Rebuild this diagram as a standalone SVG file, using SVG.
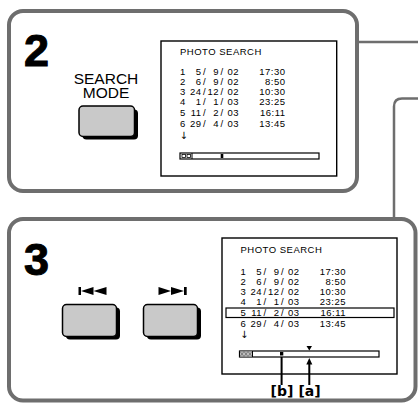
<svg xmlns="http://www.w3.org/2000/svg" width="418" height="403" viewBox="0 0 418 403">
<style>
.panel{fill:#fff;stroke:#6e6e6e;stroke-width:4}
.conn{fill:none;stroke:#6e6e6e;stroke-width:2.5}
.screen{fill:#fff;stroke:#000;stroke-width:1.4}
.t{font-family:"Liberation Sans",Arial,sans-serif;font-size:9.5px;letter-spacing:0.5px;fill:#000}
.e{text-anchor:end}
.step{font-family:"Liberation Sans",Arial,sans-serif;font-size:45px;font-weight:bold;fill:#000;stroke:#000;stroke-width:1}
.lbl{font-family:"Liberation Sans",Arial,sans-serif;font-size:15.5px;fill:#000;text-anchor:middle}
.face{fill:#c9c9c9;stroke:#000;stroke-width:1.5}
.shadow{fill:#000}
.bar{fill:#fff;stroke:#000;stroke-width:1.2}
.arr{font-family:"DejaVu Sans",sans-serif;font-size:10px;fill:#000}
.ab{font-family:"DejaVu Sans",Verdana,sans-serif;font-size:14px;font-weight:bold;fill:#000;text-anchor:middle}
</style>
<rect width="418" height="403" fill="#fff"/>
<g id="connectors">
<path class="conn" d="M359 42 H418"/>
<path class="conn" d="M418 98.5 H402 Q394 98.5 394 106.5 V218"/>
</g>
<g id="panel2">
<rect class="panel" x="9" y="11" width="348" height="180" rx="14"/>
<text class="step" x="24" y="66">2</text>
<text class="lbl"><tspan x="106" y="83.5">SEARCH</tspan><tspan x="106" y="97.5">MODE</tspan></text>
<rect class="shadow" x="82.5" y="109.5" width="55.5" height="30" rx="4"/>
<rect class="face" x="79" y="106" width="55.5" height="30.5" rx="4"/>
</g>
<g id="screen2">
<rect class="screen" x="161" y="41" width="175.7" height="135"/>
<text class="t" x="180" y="55">PHOTO  SEARCH</text>
<g class="t">
<text x="180" y="75">1</text><text class="e" x="201.5" y="75">5</text><text x="203" y="75">/</text><text class="e" x="219" y="75">9</text><text x="220.5" y="75">/</text><text x="227.5" y="75">02</text><text class="e" x="285.5" y="75">17:30</text>
<text x="180" y="85">2</text><text class="e" x="201.5" y="85">6</text><text x="203" y="85">/</text><text class="e" x="219" y="85">9</text><text x="220.5" y="85">/</text><text x="227.5" y="85">02</text><text class="e" x="285.5" y="85">8:50</text>
<text x="180" y="94.5">3</text><text class="e" x="201.5" y="94.5">24</text><text x="203" y="94.5">/</text><text class="e" x="219" y="94.5">12</text><text x="220.5" y="94.5">/</text><text x="227.5" y="94.5">02</text><text class="e" x="285.5" y="94.5">10:30</text>
<text x="180" y="104.5">4</text><text class="e" x="201.5" y="104.5">1</text><text x="203" y="104.5">/</text><text class="e" x="219" y="104.5">1</text><text x="220.5" y="104.5">/</text><text x="227.5" y="104.5">03</text><text class="e" x="285.5" y="104.5">23:25</text>
<text x="180" y="115.5">5</text><text class="e" x="201.5" y="115.5">11</text><text x="203" y="115.5">/</text><text class="e" x="219" y="115.5">2</text><text x="220.5" y="115.5">/</text><text x="227.5" y="115.5">03</text><text class="e" x="285.5" y="115.5">16:11</text>
<text x="180" y="126.5">6</text><text class="e" x="201.5" y="126.5">29</text><text x="203" y="126.5">/</text><text class="e" x="219" y="126.5">4</text><text x="220.5" y="126.5">/</text><text x="227.5" y="126.5">03</text><text class="e" x="285.5" y="126.5">13:45</text>
</g>
<text class="arr" x="179.5" y="138.5">↓</text>
<rect class="bar" x="180" y="153" width="139" height="6"/>
<path d="M192 153 V159" stroke="#000" stroke-width="1"/>
<rect x="182" y="154.5" width="3.5" height="3" fill="none" stroke="#000" stroke-width="0.8"/>
<rect x="187" y="154.5" width="3.5" height="3" fill="none" stroke="#000" stroke-width="0.8"/>
<rect x="220.7" y="154" width="2.6" height="4" fill="#000"/>
</g>
<g id="panel3">
<rect class="panel" x="9" y="219" width="406.5" height="181.5" rx="14"/>
<text class="step" x="24" y="275">3</text>
<polygon points="78.5,287 81,287 81,295 78.5,295" fill="#000"/>
<polygon points="81,291 93.5,287 93.5,295" fill="#000"/>
<polygon points="93.5,291 106.5,287 106.5,295" fill="#000"/>
<polygon points="158.5,287 171,291 158.5,295" fill="#000"/>
<polygon points="171,287 184,291 171,295" fill="#000"/>
<polygon points="184,287 186.7,287 186.7,295 184,295" fill="#000"/>
<rect class="shadow" x="66" y="307.5" width="54" height="32" rx="4"/>
<rect class="face" x="62.5" y="304.5" width="54" height="32" rx="4"/>
<rect class="shadow" x="147" y="307.5" width="54" height="32" rx="4"/>
<rect class="face" x="143.5" y="304.5" width="54" height="32" rx="4"/>
</g>
<g id="screen3">
<rect class="screen" x="222" y="238" width="175" height="136"/>
<text class="t" x="240.5" y="252.7">PHOTO  SEARCH</text>
<g class="t">
<text x="240.5" y="275">1</text><text class="e" x="262" y="275">5</text><text x="263.5" y="275">/</text><text class="e" x="279.5" y="275">9</text><text x="281" y="275">/</text><text x="288" y="275">02</text><text class="e" x="346" y="275">17:30</text>
<text x="240.5" y="285">2</text><text class="e" x="262" y="285">6</text><text x="263.5" y="285">/</text><text class="e" x="279.5" y="285">9</text><text x="281" y="285">/</text><text x="288" y="285">02</text><text class="e" x="346" y="285">8:50</text>
<text x="240.5" y="294.5">3</text><text class="e" x="262" y="294.5">24</text><text x="263.5" y="294.5">/</text><text class="e" x="279.5" y="294.5">12</text><text x="281" y="294.5">/</text><text x="288" y="294.5">02</text><text class="e" x="346" y="294.5">10:30</text>
<text x="240.5" y="304.5">4</text><text class="e" x="262" y="304.5">1</text><text x="263.5" y="304.5">/</text><text class="e" x="279.5" y="304.5">1</text><text x="281" y="304.5">/</text><text x="288" y="304.5">03</text><text class="e" x="346" y="304.5">23:25</text>
<text x="240.5" y="315.5">5</text><text class="e" x="262" y="315.5">11</text><text x="263.5" y="315.5">/</text><text class="e" x="279.5" y="315.5">2</text><text x="281" y="315.5">/</text><text x="288" y="315.5">03</text><text class="e" x="346" y="315.5">16:11</text>
<text x="240.5" y="327">6</text><text class="e" x="262" y="327">29</text><text x="263.5" y="327">/</text><text class="e" x="279.5" y="327">4</text><text x="281" y="327">/</text><text x="288" y="327">03</text><text class="e" x="346" y="327">13:45</text>
</g>
<rect x="226" y="308" width="168" height="9.5" fill="none" stroke="#000" stroke-width="1.2"/>
<text class="arr" x="240" y="338">↓</text>
<rect class="bar" x="239.5" y="351" width="139.5" height="6"/>
<rect x="240" y="351.5" width="12" height="5" fill="#bdbdbd"/>
<path d="M240 351.5 L244 356.5 L248 351.5 L252 356.5 M240 356.5 L244 351.5 L248 356.5 L252 351.5" stroke="#555" stroke-width="0.6" fill="none"/>
<path d="M252.5 351 V357" stroke="#000" stroke-width="1"/>
<rect x="280" y="352" width="3.3" height="3.5" fill="#000"/>
<polygon points="306.5,346 312,346 309.3,350.5" fill="#000"/>
<polygon points="309.3,358 306.3,364.5 312.3,364.5" fill="#000"/>
<path d="M281.6 357 V385 M309.3 364 V385" stroke="#000" stroke-width="2"/>
<text class="ab" x="282" y="396">[b]</text>
<text class="ab" x="309.5" y="396">[a]</text>
</g>
</svg>
